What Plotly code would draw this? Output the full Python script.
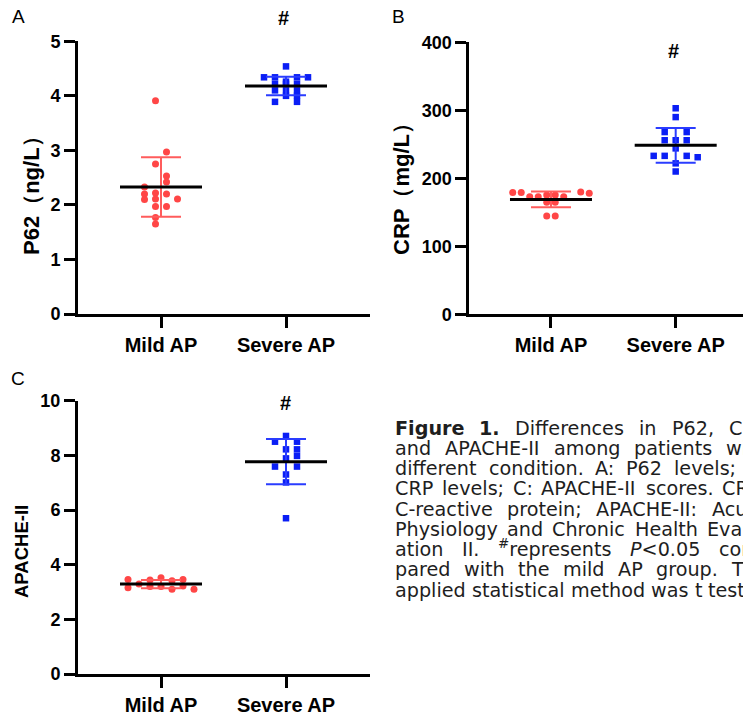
import re
import plotly.graph_objects as go

W, H = 751, 712
OFF = 8  # page body margin offset compensation (px)
groups = ["Mild AP", "Severe AP"]

# ---- Panel A: P62 (ng/L) ----
a_mild = [3.91, 2.97, 2.75, 2.53, 2.42, 2.33, 2.20, 2.22, 2.20, 2.10, 2.11, 2.11, 1.97, 1.97, 1.77, 1.65]
a_mild_col = [-0.5, 0.5, -0.5, 0.5, 0.5, -1.5, -1.5, -0.5, 0.5, -1.5, -0.5, 1.5, -0.5, 0.5, -0.5, -0.5]
a_sev = [4.54, 4.34, 4.34, 4.34, 4.34, 4.26, 4.22, 4.22, 4.22, 4.10, 4.10, 4.10, 4.00, 4.00, 3.89, 3.89]
a_sev_col = [0, -2, -1, 1, 2, 0, -1, 0, 1, -1, 0, 1, 0, 1, -1, 1]
a_mean = [2.33, 4.18]
a_sd = [0.545, 0.17]

# ---- Panel B: CRP (mg/L) ----
b_mild = [179, 179, 173, 173, 175.5, 175.5, 173, 180, 178, 164.7, 164.7, 144.6, 144.6]
b_mild_col = [-4.5, -3.5, -2.5, -1.5, -0.5, 0.5, 1.5, 3.5, 4.5, -0.5, 0.5, -0.5, 0.5]
b_sev = [303, 290, 268, 268, 256, 256, 256, 244, 233, 233, 233, 231, 222, 210]
b_sev_col = [0, 0, -1, 1, -1, 0, 1, 0, -2, -1, 1, 2, 0, 0]
b_mean = [169, 248.5]
b_sd = [11.7, 25.5]

# ---- Panel C: APACHE-II ----
c_mild = [3.46, 3.44, 3.52, 3.41, 3.46, 3.29, 3.16, 3.20, 3.20, 3.10, 3.22, 3.10]
c_mild_col = [-3, -1, 0, 1, 2, -2, -3, -1, 0, 1, 2, 3]
c_sev = [8.71, 8.50, 8.50, 8.22, 8.22, 7.98, 7.89, 7.59, 7.59, 7.30, 7.01, 5.70]
c_sev_col = [0, -1, 1, 0, 1, 1, 0, -1, 1, 0, 0, 0]
c_mean = [3.29, 7.77]
c_sd = [0.15, 0.83]

caption_lines = [
    "<b>Figure</b> <b>1.</b> Differences in P62, CRP",
    "and APACHE-II among patients with",
    "different condition. A: P62 levels; B:",
    "CRP levels; C: APACHE-II scores. CRP:",
    "C-reactive protein; APACHE-II: Acute",
    "Physiology and Chronic Health Evalu-",
    "ation II. <sup>#</sup>represents <i>P</i>&lt;0.05 com-",
    "pared with the mild AP group. The",
    "applied statistical method was t test.",
]

RED = "#ff4646"
RED_EB = "#ff5c5c"
BLUE = "#0a1ef5"
BLUE_EB = "#2a3cff"
AX_FONT = "Liberation Sans, Arial, sans-serif"
CAP_FONT = "DejaVu Sans"
CAP_SIZE = 19.2
CAP_LEFT, CAP_WIDTH = 395, 372
CAP_BASE, CAP_STEP = 435, 20.25


def px_x(p):
    return (p - OFF) / W


def px_y(p):
    return 1 - (p - OFF) / H


# approximate DejaVu Sans advance widths (1/1000 em) for justifying caption
_REG = {' ': 318, '!': 401, '#': 838, '(': 390, ')': 390, ',': 318, '-': 361, '.': 318, '/': 337,
        ':': 337, ';': 337, '<': 838}
_REG.update({d: 636 for d in "0123456789"})
_REG.update(dict(zip("ABCDEFGHIJKLMNOPQRSTUVWXYZ",
                     [684, 686, 698, 770, 632, 575, 775, 752, 295, 295, 656, 557, 863, 748, 787, 603, 787,
                      695, 635, 611, 732, 684, 989, 685, 611, 685])))
_REG.update(dict(zip("abcdefghijklmnopqrstuvwxyz",
                     [613, 635, 550, 635, 615, 352, 635, 634, 278, 278, 579, 278, 974, 634, 612, 635, 635,
                      411, 521, 392, 634, 592, 818, 592, 592, 525])))
_BOLD = {'F': 683, 'i': 343, 'g': 716, 'u': 712, 'r': 493, 'e': 678, '1': 696, '.': 380}


def word_width(word, size):
    bold = "<b>" in word
    w = 0.0
    for sup in re.findall(r"<sup>(.*?)</sup>", word):
        w += 0.7 * sum(_REG.get(c, 600) for c in sup)
    plain = re.sub(r"<sup>.*?</sup>", "", word)
    plain = re.sub(r"<[^>]+>", "", plain).replace("&lt;", "<")
    tbl = _BOLD if bold else _REG
    w += sum(tbl.get(c, _REG.get(c, 600) * (1.08 if bold else 1)) for c in plain)
    return w / 1000 * size


panels = [
    dict(xa="x", ya="y", xl=78, xr=370, xrange=[-0.664, 1.672], yb=314, yt=41.3, yrange=[0, 5], dtick=1,
         mild=a_mild, mcol=a_mild_col, msp=11, sev=a_sev, scol=a_sev_col, ssp=11, mean=a_mean, sd=a_sd),
    dict(xa="x2", ya="y2", xl=469.3, xr=759, xrange=[-0.655, 1.668], yb=314.3, yt=42.3, yrange=[0, 400],
         dtick=100, mild=b_mild, mcol=b_mild_col, msp=8.5, sev=b_sev, scol=b_sev_col, ssp=11,
         mean=b_mean, sd=b_sd),
    dict(xa="x3", ya="y3", xl=78, xr=370, xrange=[-0.664, 1.672], yb=674, yt=400.7, yrange=[0, 10], dtick=2,
         mild=c_mild, mcol=c_mild_col, msp=11, sev=c_sev, scol=c_sev_col, ssp=11, mean=c_mean, sd=c_sd),
]

fig = go.Figure()

for p in panels:
    ppu = (p["xr"] - p["xl"]) / (p["xrange"][1] - p["xrange"][0])  # px per x unit
    fig.add_trace(go.Scatter(
        x=[0 + c * p["msp"] / ppu for c in p["mcol"]], y=p["mild"], mode="markers",
        marker=dict(symbol="circle", size=7, color=RED), xaxis=p["xa"], yaxis=p["ya"],
        cliponaxis=False, hoverinfo="y"))
    fig.add_trace(go.Scatter(
        x=[1 + c * p["ssp"] / ppu for c in p["scol"]], y=p["sev"], mode="markers",
        marker=dict(symbol="square", size=6.5, color=BLUE), xaxis=p["xa"], yaxis=p["ya"],
        cliponaxis=False, hoverinfo="y"))
    for g, col in enumerate([RED_EB, BLUE_EB]):
        fig.add_trace(go.Scatter(
            x=[g], y=[p["mean"][g]], mode="markers", marker=dict(size=2, color=col, opacity=0),
            error_y=dict(type="data", array=[p["sd"][g]], color=col, thickness=2, width=20, visible=True),
            xaxis=p["xa"], yaxis=p["ya"], cliponaxis=False, hoverinfo="skip"))
    hw = 41 / ppu
    for g in range(2):
        fig.add_trace(go.Scatter(
            x=[g - hw, g + hw], y=[p["mean"][g]] * 2, mode="lines",
            line=dict(color="black", width=3), xaxis=p["xa"], yaxis=p["ya"],
            cliponaxis=False, hoverinfo="skip"))

    xkey = "xaxis" + ("" if p["xa"] == "x" else p["xa"][1:])
    ykey = "yaxis" + ("" if p["ya"] == "y" else p["ya"][1:])
    fig.update_layout(**{
        xkey: dict(domain=[px_x(p["xl"]), min(1.0, px_x(p["xr"]))], range=p["xrange"], anchor=p["ya"],
                   tickvals=[0, 1], ticktext=groups, showline=True, linecolor="black", linewidth=3,
                   ticks="outside", ticklen=11, tickwidth=2.5, tickcolor="black", showgrid=False,
                   zeroline=False, automargin=False,
                   tickfont=dict(family=AX_FONT, size=20, color="black", weight="bold")),
        ykey: dict(domain=[px_y(p["yb"]), px_y(p["yt"])], range=p["yrange"], anchor=p["xa"],
                   dtick=p["dtick"], tick0=0, showline=True, linecolor="black", linewidth=3,
                   ticks="outside", ticklen=11, tickwidth=2.5, tickcolor="black", showgrid=False,
                   zeroline=False, automargin=False,
                   tickfont=dict(family=AX_FONT, size=18, color="black", weight="bold")),
    })

annotations = []
for letter, x, y in [("A", 18, 17), ("B", 398, 17), ("C", 18, 378)]:
    annotations.append(dict(text=letter, x=px_x(x), y=px_y(y), xref="paper", yref="paper",
                            showarrow=False, xanchor="center", yanchor="middle",
                            font=dict(family=AX_FONT, size=19, color="black")))
for x, y in [(283, 18), (673, 51), (285, 403)]:
    annotations.append(dict(text="#", x=px_x(x), y=px_y(y), xref="paper", yref="paper",
                            showarrow=False, xanchor="center", yanchor="middle",
                            font=dict(family=AX_FONT, size=20, color="black", weight="bold")))
for t, x, y, s in [("P62（ng/L）", 31, 190, 22), ("CRP（mg/L）", 401, 183, 22), ("APACHE-II", 21, 552, 18.5)]:
    annotations.append(dict(text=t, x=px_x(x), y=px_y(y), xref="paper", yref="paper", textangle=-90,
                            showarrow=False, xanchor="center", yanchor="middle",
                            font=dict(family=AX_FONT, size=s, color="black", weight="bold")))

# justified caption: each word placed separately, anchored on its bottom (baseline + descent)
desc = 0.236 * CAP_SIZE
for k, line in enumerate(caption_lines):
    words = line.split(" ")
    widths = [word_width(wd, CAP_SIZE) for wd in words]
    last = k == len(caption_lines) - 1
    if last or len(words) == 1:
        gap = _REG[' '] / 1000 * CAP_SIZE
    else:
        gap = (CAP_WIDTH - sum(widths)) / (len(words) - 1)
    xpos = CAP_LEFT
    for wd, ww in zip(words, widths):
        annotations.append(dict(text=wd, x=px_x(xpos), y=px_y(CAP_BASE + k * CAP_STEP + desc),
                                xref="paper", yref="paper", showarrow=False, xanchor="left",
                                yanchor="bottom", align="left", borderpad=0, borderwidth=0,
                                font=dict(family=CAP_FONT, size=CAP_SIZE, color="#1e1e1e")))
        xpos += ww + gap

fig.update_layout(width=W, height=H, margin=dict(l=0, r=0, t=0, b=0), paper_bgcolor="white",
                  plot_bgcolor="white", showlegend=False, annotations=annotations)

fig.write_html("out.html")
